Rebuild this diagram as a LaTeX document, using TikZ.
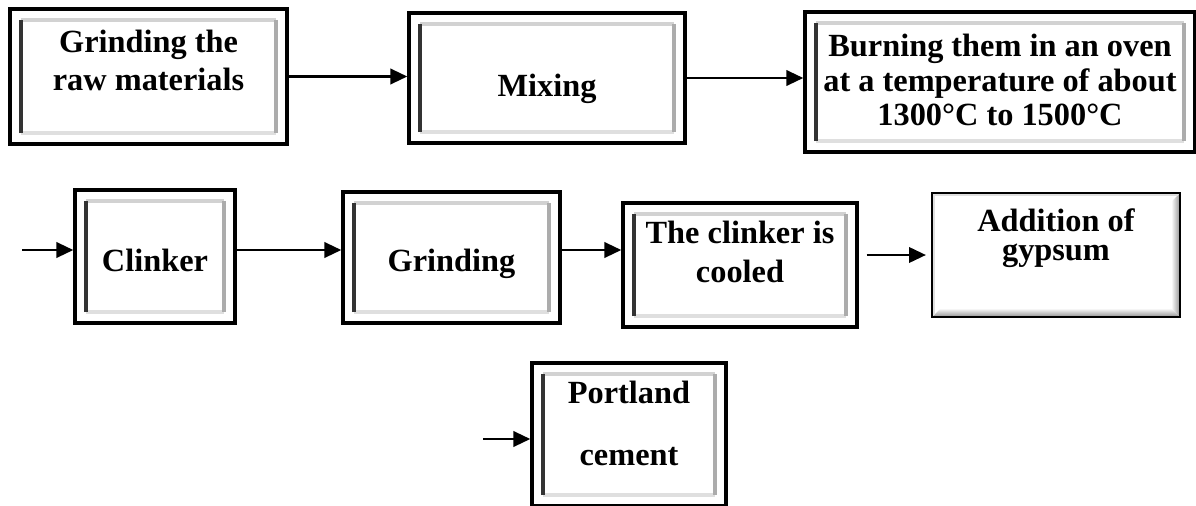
\documentclass[tikz,border=0pt]{standalone}
\usepackage{fontspec}
\setmainfont{Liberation Serif}
\usetikzlibrary{arrows.meta}

\tikzset{
  arr/.style={line width=1.6pt,-{Triangle[length=12pt,width=11pt]}},
  bevelbox/.style={draw,line width=2.4pt,rectangle,align=center,inner sep=0pt,
    font=\fontsize{23}{27}\selectfont\bfseries,
    path picture={
      \coordinate (bl) at ([shift={(0.27cm,0.27cm)}]path picture bounding box.south west);
      \coordinate (tr) at ([shift={(-0.27cm,-0.27cm)}]path picture bounding box.north east);
      \draw[line width=3pt,gray!35] (bl |- tr) -- (tr);
      \draw[line width=3pt,gray!25] (bl) -- (bl -| tr);
      \draw[line width=3pt,gray!65] (tr) -- (bl -| tr);
      \draw[line width=3pt,black!80] (bl) -- (bl |- tr);
    }},
  raisedbox/.style={draw,line width=1.8pt,rectangle,align=center,inner sep=0pt,
    font=\fontsize{23}{27}\selectfont\bfseries,
    path picture={
      \coordinate (bl) at (path picture bounding box.south west);
      \coordinate (tr) at (path picture bounding box.north east);
      \shade[left color=white,right color=gray!85]
        (tr) -- ([shift={(-0.22cm,-0.22cm)}]tr) -- ([shift={(-0.22cm,0.22cm)}]bl -| tr) -- (bl -| tr) -- cycle;
      \shade[top color=white,bottom color=gray!85]
        (bl) -- ([shift={(0.22cm,0.22cm)}]bl) -- ([shift={(-0.22cm,0.22cm)}]bl -| tr) -- (bl -| tr) -- cycle;
      \draw[line width=1pt,gray!25] ([shift={(0.05cm,0.05cm)}]bl) -- ([shift={(0.05cm,-0.05cm)}]bl |- tr) -- ([shift={(-0.05cm,-0.05cm)}]tr);
    }}
}

\begin{document}
\begin{tikzpicture}[x=0.025cm,y=-0.025cm]
\useasboundingbox (0,0) rectangle (1196,506);
% first row
\node[bevelbox,minimum width=6.925cm,minimum height=3.375cm,text depth=23.4pt] (rawgrind) at (148.5,76.5) {Grinding the\\raw materials};
\node[bevelbox,minimum width=6.9cm,minimum height=3.25cm,text height=31pt,text depth=5pt] (mixing) at (547,78) {Mixing};
\node[bevelbox,minimum width=9.75cm,minimum height=3.5cm,text depth=3pt] (burning) at (1000,82) {Burning them in an oven\\[-2.5pt]at a temperature of about\\[-2.5pt]1300°C to 1500°C};
\draw[arr] (rawgrind.east) -- (rawgrind.east -| mixing.west);
\draw[arr] (mixing.east) -- (mixing.east -| burning.west);
% second row
\coordinate (rowin) at (22,250);
\node[bevelbox,minimum width=4cm,minimum height=3.325cm,text height=22pt,text depth=0pt] (clinker) at (155,256.5) {Clinker};
\node[bevelbox,minimum width=5.425cm,minimum height=3.275cm,text height=25.5pt,text depth=5pt] (grinding) at (451.5,257.5) {Grinding};
\node[bevelbox,minimum width=5.85cm,minimum height=3.1cm,text depth=19pt] (cooled) at (740,265) {The clinker is\\[1pt]cooled};
\node[raisedbox,minimum width=6.2cm,minimum height=3.1cm,text depth=29pt] (gypsum) at (1056,255) {Addition of\\[-6pt]gypsum};
\draw[arr] (rowin) -- (rowin -| clinker.west);
\draw[arr] (clinker.east |- rowin) -- (grinding.west |- rowin);
\draw[arr] (grinding.east |- rowin) -- (cooled.west |- rowin);
\draw[arr,shorten <=0.2cm,shorten >=0.12cm] (cooled.east |- gypsum.west) -- (gypsum.west);
% last row
\coordinate (lastin) at (483,439);
\node[bevelbox,minimum width=4.85cm,minimum height=3.575cm,text depth=16pt] (portland) at (629,434.5) {Portland\\[17pt]cement};
\draw[arr] (lastin) -- (lastin -| portland.west);
\end{tikzpicture}
\end{document}
